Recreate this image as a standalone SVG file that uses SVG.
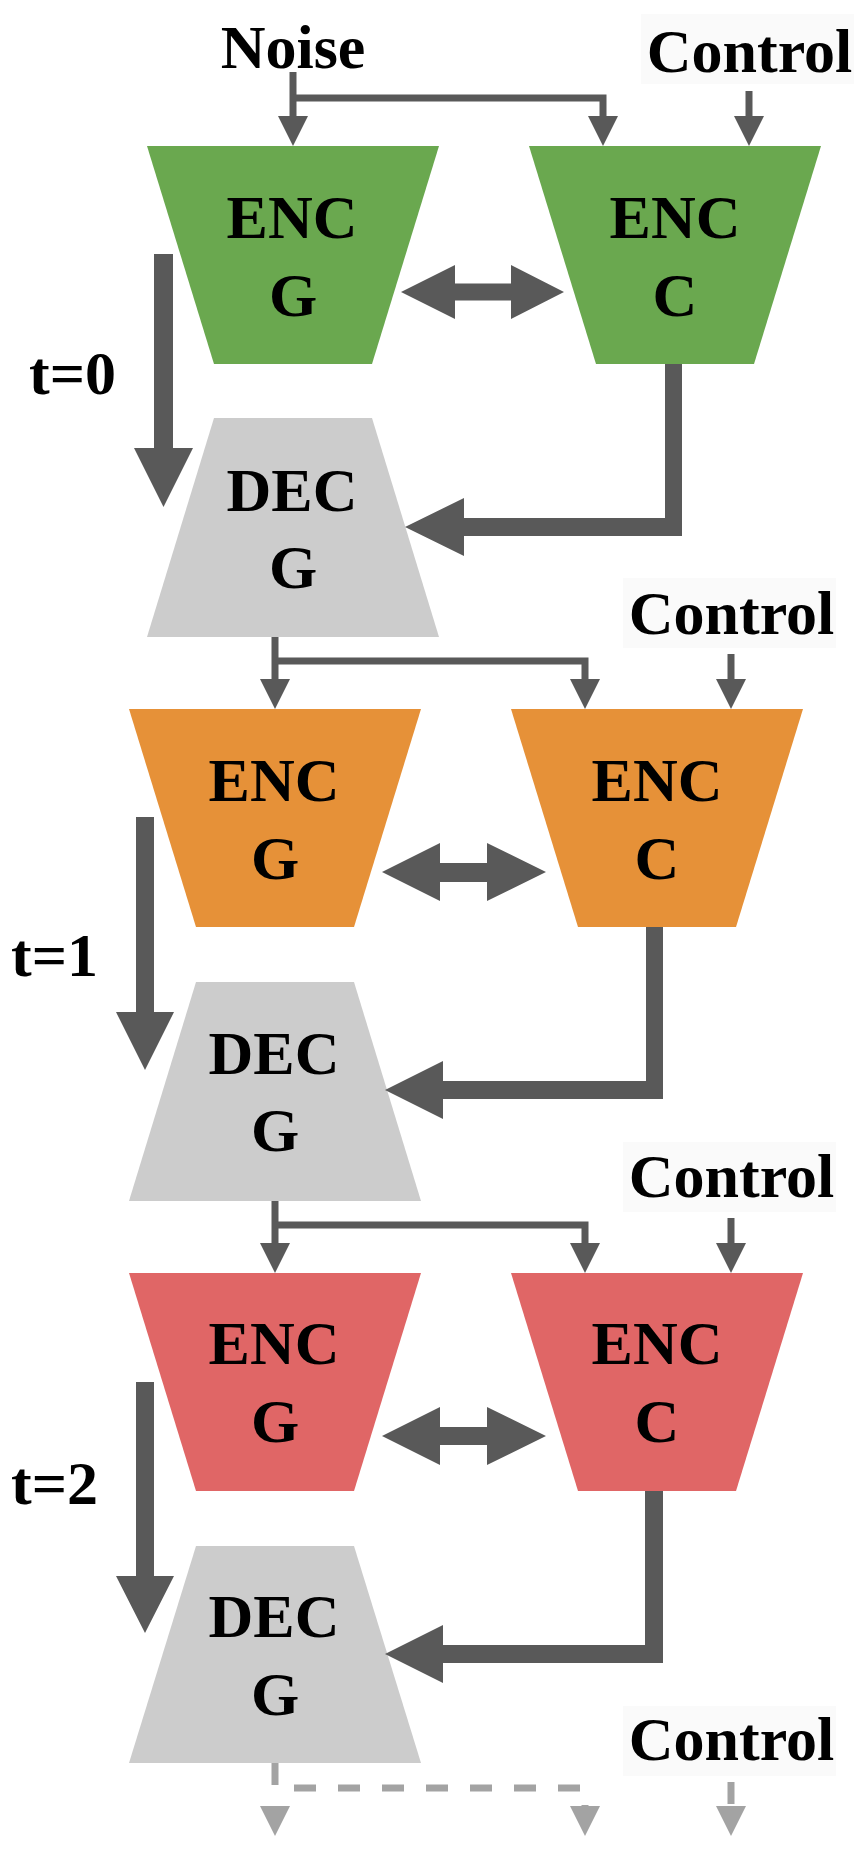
<svg xmlns="http://www.w3.org/2000/svg" width="857" height="1859" viewBox="0 0 857 1859">
<style>
text{font-family:"Liberation Serif","Times New Roman",serif;font-weight:bold;font-size:62px;fill:#000;text-anchor:middle}
.g{fill:#6aa84f}.o{fill:#e69138}.r{fill:#e06666}.d{fill:#cccccc}
.ln{fill:none;stroke:#595959;stroke-width:7;stroke-linejoin:miter}
.dl{fill:none;stroke:#a3a3a3;stroke-width:7;stroke-dasharray:22 22}
.ah{fill:#595959}.lh{fill:#a3a3a3}
.box{fill:#fafafa}
</style>
<g id="labels">
<text x="293" y="68">Noise</text>
<text x="72.5" y="394">t=0</text>
<text x="54.5" y="976">t=1</text>
<text x="54.5" y="1504">t=2</text>
</g>
<g id="control0"><rect class="box" x="641" y="14" width="213" height="70"/><text x="749.5" y="72">Control</text></g>
<g id="control1"><rect class="box" x="623" y="578" width="213" height="70"/><text x="731.5" y="634">Control</text></g>
<g id="control2"><rect class="box" x="623" y="1142" width="213" height="70"/><text x="731.5" y="1197">Control</text></g>
<g id="control3"><rect class="box" x="623" y="1706" width="213" height="70"/><text x="731.5" y="1760">Control</text></g>

<g id="encG0"><polygon class="g" points="147,146 439,146 372,364 214,364"/><text x="292" y="238">ENC</text><text x="293" y="316">G</text></g>
<g id="encC0"><polygon class="g" points="529,146 821,146 754,364 596,364"/><text x="675" y="238">ENC</text><text x="675" y="316">C</text></g>
<g id="decG0"><polygon class="d" points="214,418 372,418 439,637 147,637"/><text x="292" y="511">DEC</text><text x="293" y="588">G</text></g>

<g id="encG1"><polygon class="o" points="129,709 421,709 354,927 196,927"/><text x="274" y="801">ENC</text><text x="275" y="879">G</text></g>
<g id="encC1"><polygon class="o" points="511,709 803,709 736,927 578,927"/><text x="657" y="801">ENC</text><text x="657" y="879">C</text></g>
<g id="decG1"><polygon class="d" points="196,982 354,982 421,1201 129,1201"/><text x="274" y="1074">DEC</text><text x="275" y="1151">G</text></g>

<g id="encG2"><polygon class="r" points="129,1273 421,1273 354,1491 196,1491"/><text x="274" y="1364">ENC</text><text x="275" y="1442">G</text></g>
<g id="encC2"><polygon class="r" points="511,1273 803,1273 736,1491 578,1491"/><text x="657" y="1364">ENC</text><text x="657" y="1442">C</text></g>
<g id="decG2"><polygon class="d" points="196,1546 354,1546 421,1763 129,1763"/><text x="274" y="1637">DEC</text><text x="275" y="1715">G</text></g>

<g id="connectors">
<!-- block 0 inputs -->
<path class="ln" d="M293,72 V117"/><polygon class="ah" points="278,116 308,116 293,146"/>
<path class="ln" d="M293,98 H603 V117"/><polygon class="ah" points="588,116 618,116 603,146"/>
<path class="ln" d="M749,91 V117"/><polygon class="ah" points="734,116 764,116 749,146"/>
<!-- block 1 inputs -->
<path class="ln" d="M275,637 V680"/><polygon class="ah" points="260,679 290,679 275,709"/>
<path class="ln" d="M275,661 H585 V680"/><polygon class="ah" points="570,679 600,679 585,709"/>
<path class="ln" d="M731,654 V680"/><polygon class="ah" points="716,679 746,679 731,709"/>
<!-- block 2 inputs -->
<path class="ln" d="M275,1201 V1244"/><polygon class="ah" points="260,1243 290,1243 275,1273"/>
<path class="ln" d="M275,1225 H585 V1244"/><polygon class="ah" points="570,1243 600,1243 585,1273"/>
<path class="ln" d="M731,1218 V1244"/><polygon class="ah" points="716,1243 746,1243 731,1273"/>
<!-- dashed outputs -->
<path class="dl" d="M275,1763 V1788 H585 V1806"/>
<polygon class="lh" points="260,1806 290,1806 275,1836"/>
<polygon class="lh" points="570,1806 600,1806 585,1836"/>
<path class="dl" d="M731,1782 V1806"/>
<polygon class="lh" points="716,1806 746,1806 731,1836"/>
<!-- time arrows -->
<polygon class="ah" points="154,254 173,254 173,448 193,448 163.5,507 134,448 154,448"/>
<polygon class="ah" points="136,817 154,817 154,1012 174,1012 145,1070 116,1012 136,1012"/>
<polygon class="ah" points="136,1382 154,1382 154,1576 174,1576 145,1633 116,1576 136,1576"/>
<!-- ENC C to DEC G -->
<polygon class="ah" points="665,364 682,364 682,536 464,536 464,556 405,527 464,498 464,518 665,518"/>
<polygon class="ah" points="646,927 663,927 663,1099 443,1099 443,1119 385,1090 443,1061 443,1081 646,1081"/>
<polygon class="ah" points="645,1491 663,1491 663,1663 443,1663 443,1683 385,1654 443,1625 443,1645 645,1645"/>
<!-- double arrows -->
<polygon class="ah" points="401,292 455,265 455,283.5 511,283.5 511,265 564,292 511,319 511,300.5 455,300.5 455,319"/>
<polygon class="ah" points="382,872 440,843 440,863 487,863 487,843 546,872 487,901 487,882 440,882 440,901"/>
<polygon class="ah" points="382,1436 440,1407 440,1427 487,1427 487,1407 546,1436 487,1465 487,1445 440,1445 440,1465"/>
</g>
</svg>
